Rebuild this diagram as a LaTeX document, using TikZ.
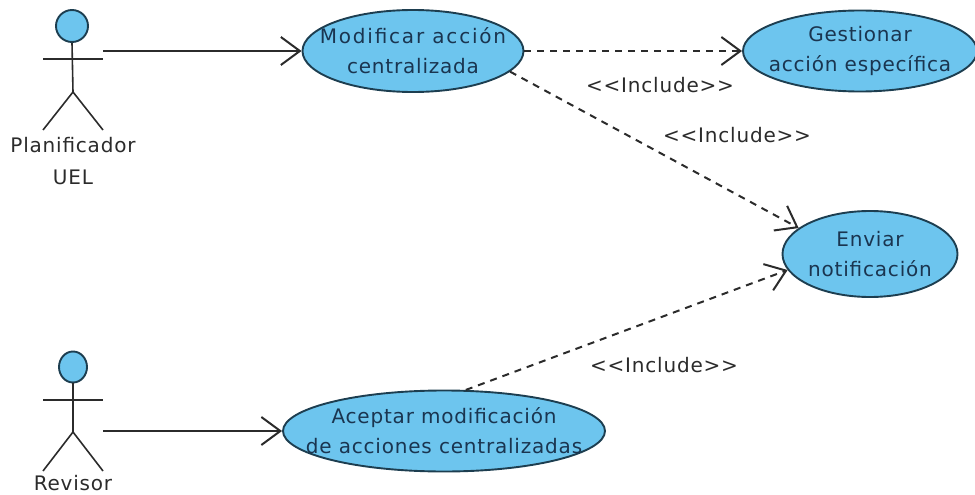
\documentclass[tikz,border=0pt]{standalone}
\usepackage{fontspec}
\setmainfont[LetterSpace=4]{DejaVu Sans}
\usetikzlibrary{arrows.meta,shapes.geometric}
\definecolor{casofill}{HTML}{6DC5EE}
\definecolor{casoline}{HTML}{1D3E50}
\definecolor{casotext}{HTML}{1A3550}
\definecolor{linea}{HTML}{2B2B2B}
\tikzset{
  caso/.style={ellipse, draw=casoline, fill=casofill, line width=1.9pt, inner ysep=0pt, inner xsep=-30pt, text=casotext, align=center, font=\fontsize{20}{30}\selectfont},
  cabeza/.style={draw=casoline, fill=casofill, line width=1.9pt, inner sep=0pt},
  etiqueta/.style={text=linea, align=center, inner sep=0pt, font=\fontsize{20}{32}\selectfont},
  palo/.style={draw=linea, line width=1.6pt},
  flecha/.style={draw=linea, line width=2pt, -{Straight Barb[length=19pt,width=28pt,line width=2pt]}},
  incluye/.style={flecha, dash pattern=on 7pt off 6pt}
}
\begin{document}
\begin{tikzpicture}[x=1pt, y=-1pt]
    \useasboundingbox (0,0) rectangle (975,495);
    % casos de uso
    \node[caso, minimum width=221pt, minimum height=82pt] (modificar) at (413,51) {{\addfontfeature{LetterSpace=9}Modificar acción}\\centralizada};
    \node[caso, minimum width=234pt, minimum height=81pt] (gestionar) at (860,51) {Gestionar\\acción específica};
    \node[caso, minimum width=175pt, minimum height=86pt] (enviar) at (870,254) {Enviar\\notificación};
    \node[caso, minimum width=322pt, minimum height=81pt] (aceptar) at (444,431) {Aceptar modificación\\de acciones centralizadas};
    % actor de arriba
    \node[cabeza, circle, minimum size=32pt] (cabeza1) at (72,26) {};
    \coordinate (cadera1) at (73,92);
    \coordinate (salida1) at (103,51);
    \draw[palo] (cabeza1.south) -- (cadera1);
    \draw[palo] (43,59) -- (103,59);
    \draw[palo] (43,130) -- (cadera1) -- (103,130);
    \node[etiqueta] (planificador) at (73,161) {Planificador\\UEL};
    % actor de abajo
    \node[cabeza, ellipse, minimum width=28pt, minimum height=31pt] (cabeza2) at (73,367) {};
    \coordinate (cadera2) at (73,432);
    \coordinate (salida2) at (103,431);
    \draw[palo] (cabeza2.south) -- (cadera2);
    \draw[palo] (43,400) -- (103,400);
    \draw[palo] (43,471) -- (cadera2) -- (103,471);
    \node[etiqueta] (revisor) at (73,483) {Revisor};
    % relaciones
    \draw[flecha] (salida1) -- (modificar.west);
    \draw[flecha] (salida2) -- (aceptar.west);
    \draw[incluye] (modificar.east) -- (gestionar.west);
    \draw[incluye] (modificar.-12) -- (enviar.160);
    \draw[incluye] (aceptar.62) -- (enviar.191);
    \node[etiqueta] (include1) at (660,85) {<{}<Include>{}>};
    \node[etiqueta] (include2) at (737,135) {<{}<Include>{}>};
    \node[etiqueta] (include3) at (664,365) {<{}<Include>{}>};
\end{tikzpicture}
\end{document}
